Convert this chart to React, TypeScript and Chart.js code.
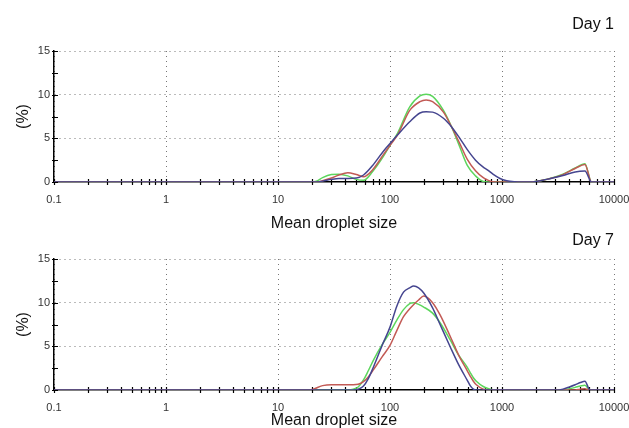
import React, { useEffect, useRef } from 'react';
import { Chart, registerables } from 'chart.js';

Chart.register(...registerables);

const FONT = "'Liberation Sans', Arial, sans-serif";

const xTickValues = [0.1, 1, 10, 100, 1000, 10000];
const xTickLabels = ['0.1', '1', '10', '100', '1000', '10000'];
const yTickValues = [0, 5, 10, 15];
const yMinorTicks = [0, 2.5, 5, 7.5, 10, 12.5, 15];
const xDecades = [0.1, 1, 10, 100, 1000];
const xMultipliers = [1, 2, 3, 4, 5, 6, 7, 8, 9];

const seriesColors = { blue: '#45458f', red: '#c25a55', green: '#5cd65c' };

// Day 1
const day1Sizes = [0.1, 20, 22, 25, 30, 35, 42, 50, 58, 70, 87, 100, 117, 150, 185, 210, 240, 300, 355, 420, 490, 580, 680, 740, 830, 960, 1100, 1300, 1500, 1800, 2500, 3500, 4500, 5500, 6300, 10000];
const day1Blue = [0, 0, 0, 0.1, 0.3, 0.4, 0.4, 0.45, 0.8, 1.9, 3.5, 4.4, 5.4, 6.9, 7.9, 8.05, 8.0, 7.3, 6.3, 5.0, 3.7, 2.5, 1.7, 1.4, 0.9, 0.4, 0.15, 0.03, 0, 0, 0.3, 0.75, 1.15, 1.25, 0, 0];
const day1Red = [0, 0, 0, 0.15, 0.45, 0.8, 1.05, 0.85, 0.6, 1.4, 3.1, 4.2, 5.4, 8.2, 9.2, 9.4, 9.2, 8.0, 6.3, 4.4, 2.6, 1.3, 0.5, 0.25, 0.02, 0, 0, 0, 0, 0, 0.3, 0.85, 1.55, 2.0, 0, 0];
const day1Green = [0, 0, 0.1, 0.5, 0.85, 0.9, 0.7, 0.3, 0.2, 1.2, 2.9, 4.2, 5.6, 8.6, 9.85, 10.05, 9.8, 8.2, 6.3, 4.0, 1.9, 0.7, 0.05, 0, 0, 0, 0, 0, 0, 0, 0.3, 0.9, 1.6, 2.1, 0, 0];

// Day 7
const day7Sizes = [0.1, 19, 25, 30, 40, 47, 52, 58, 64, 71, 85, 100, 115, 132, 150, 163, 180, 200, 240, 280, 346, 410, 490, 520, 555, 590, 680, 760, 830, 900, 1000, 3000, 3500, 4000, 4500, 5000, 5500, 6100, 10000];
const day7Blue = [0, 0, 0, 0, 0, 0, 0.1, 0.45, 1.3, 2.6, 5.1, 7.2, 9.6, 11.2, 11.7, 11.9, 11.7, 11.1, 9.4, 7.5, 4.9, 2.9, 1.1, 0.5, 0.1, 0, 0, 0, 0, 0, 0, 0, 0.1, 0.35, 0.6, 0.85, 1.0, 0, 0];
const day7Red = [0, 0, 0.5, 0.6, 0.6, 0.6, 0.65, 0.95, 1.5, 2.3, 3.8, 5.1, 6.8, 8.4, 9.3, 9.8, 10.3, 10.75, 10.0, 8.6, 6.1, 4.0, 2.2, 1.6, 1.0, 0.6, 0.1, 0, 0, 0, 0, 0, 0, 0, 0, 0.1, 0.15, 0, 0];
const day7Green = [0, 0, 0, 0, 0, 0.1, 0.35, 1.15, 2.2, 3.4, 5.2, 6.6, 8.0, 9.2, 9.9, 10.0, 9.8, 9.5, 8.8, 7.7, 5.7, 4.0, 2.6, 2.0, 1.4, 1.0, 0.4, 0.15, 0.02, 0, 0, 0, 0, 0.15, 0.3, 0.45, 0.55, 0, 0];

const minorTickPlugin = {
  id: 'minorTicks',
  beforeDatasetsDraw(chart: any) {
    const { ctx, scales } = chart;
    const x = scales.x;
    const y = scales.y;
    const y0 = y.getPixelForValue(0);
    const x0 = x.getPixelForValue(0.1);
    ctx.save();
    ctx.strokeStyle = '#000';
    ctx.lineWidth = 1.2;
    ctx.beginPath();
    const xs: number[] = [];
    xDecades.forEach((d) => xMultipliers.forEach((m) => xs.push(m * d)));
    xs.push(10000);
    xs.forEach((v) => {
      const px = Math.round(x.getPixelForValue(v)) + 0.5;
      ctx.moveTo(px, y0 - 3);
      ctx.lineTo(px, y0 + 3);
    });
    yMinorTicks.forEach((v) => {
      const py = Math.round(y.getPixelForValue(v)) + 0.5;
      ctx.moveTo(x0 - 2, py);
      ctx.lineTo(x0 + 4, py);
    });
    ctx.stroke();
    ctx.restore();
  },
};

type Geom = {
  height: number;
  titleTop: number;
  titleBottom: number;
  xAxisHeight: number;
  xTitleBottom: number;
};

function makeConfig(title: string, sizes: number[], blue: number[], red: number[], green: number[], g: Geom): any {
  const mk = (label: string, vals: number[], color: string) => ({
    label,
    data: sizes.map((s, i) => ({ x: s, y: vals[i] })),
    borderColor: color,
    borderWidth: 1.5,
    pointRadius: 0,
    fill: false,
    cubicInterpolationMode: 'monotone',
  });
  return {
    type: 'line',
    data: {
      datasets: [
        mk('Blue', blue, seriesColors.blue),
        mk('Red', red, seriesColors.red),
        mk('Green', green, seriesColors.green),
      ],
    },
    options: {
      animation: false,
      responsive: false,
      events: [],
      layout: { padding: { left: 0, right: 15, top: 0, bottom: 0 } },
      plugins: {
        legend: { display: false },
        tooltip: { enabled: false },
        title: {
          display: true,
          text: title,
          align: 'end',
          color: '#111',
          font: { family: FONT, size: 16, weight: 'normal' },
          padding: { top: g.titleTop, bottom: g.titleBottom },
        },
      },
      scales: {
        x: {
          type: 'logarithmic',
          min: 0.1,
          max: 10000,
          afterBuildTicks: (s: any) => {
            s.ticks = xTickValues.map((v) => ({ value: v }));
          },
          afterFit: (s: any) => {
            s.height = g.xAxisHeight;
            s.paddingLeft = 0;
            s.paddingRight = 0;
          },
          ticks: {
            autoSkip: false,
            maxRotation: 0,
            padding: 11,
            color: '#333',
            font: { family: FONT, size: 11 },
            callback: (_v: any, i: number) => xTickLabels[i],
          },
          grid: { color: '#777', lineWidth: 1, drawTicks: false },
          border: { display: true, color: '#000', width: 1.5, dash: [1, 4] },
          title: {
            display: true,
            text: 'Mean droplet size',
            color: '#111',
            font: { family: FONT, size: 16 },
            padding: { top: 0, bottom: g.xTitleBottom },
          },
        },
        y: {
          type: 'linear',
          min: 0,
          max: 15,
          afterBuildTicks: (s: any) => {
            s.ticks = yTickValues.map((v) => ({ value: v }));
          },
          afterFit: (s: any) => {
            s.width = 54;
          },
          ticks: {
            padding: 4,
            color: '#333',
            font: { family: FONT, size: 11 },
          },
          grid: {
            color: (c: any) => (c.tick && c.tick.value === 0 ? 'rgba(0,0,0,0)' : '#777'),
            lineWidth: 1,
            drawTicks: false,
          },
          border: { display: true, color: '#000', width: 1.5, dash: [1, 4] },
          title: {
            display: true,
            text: '(%)',
            color: '#111',
            font: { family: FONT, size: 16 },
            padding: { top: 14.4, bottom: 0 },
          },
        },
      },
    },
    plugins: [minorTickPlugin],
  };
}

function ChartPanel(props: { top: number; title: string; sizes: number[]; blue: number[]; red: number[]; green: number[]; g: Geom }) {
  const ref = useRef<HTMLCanvasElement | null>(null);
  useEffect(() => {
    if (!ref.current) return;
    const chart = new Chart(ref.current, makeConfig(props.title, props.sizes, props.blue, props.red, props.green, props.g));
    return () => chart.destroy();
  }, []);
  return (
    <div style={{ position: 'absolute', left: 0, top: props.top, width: 629, height: props.g.height }}>
      <canvas ref={ref} width={629} height={props.g.height} style={{ display: 'block', width: 629, height: props.g.height }} />
    </div>
  );
}

const day1Geom: Geom = { height: 236, titleTop: 15.4, titleBottom: 16.4, xAxisHeight: 54, xTitleBottom: 2.4 };
const day7Geom: Geom = { height: 206, titleTop: 5.4, titleBottom: 8.4, xAxisHeight: 42, xTitleBottom: 1.4 };

export default function App() {
  return (
    <div style={{ position: 'absolute', left: 0, top: 0, width: 629, height: 428, overflow: 'hidden', background: '#fff' }}>
      <ChartPanel top={0} title="Day 1" sizes={day1Sizes} blue={day1Blue} red={day1Red} green={day1Green} g={day1Geom} />
      <ChartPanel top={226} title="Day 7" sizes={day7Sizes} blue={day7Blue} red={day7Red} green={day7Green} g={day7Geom} />
    </div>
  );
}
